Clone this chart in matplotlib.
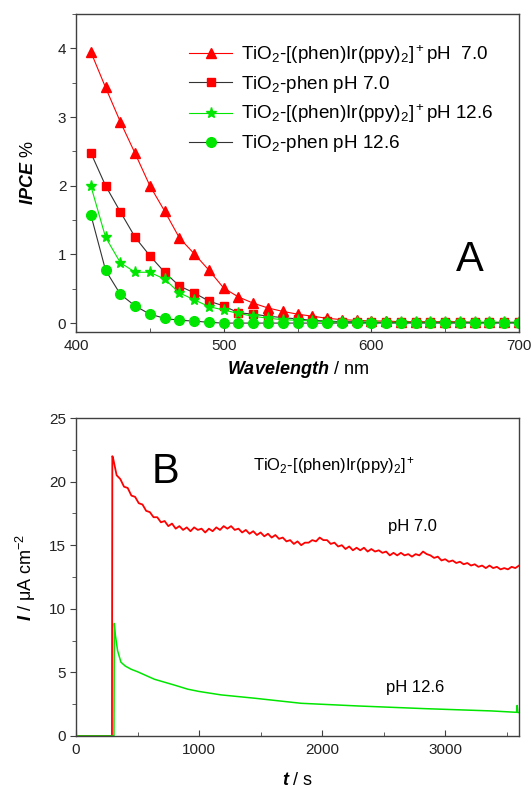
import numpy as np
import matplotlib
matplotlib.use('Agg')
import matplotlib.pyplot as plt
from matplotlib.ticker import MultipleLocator

plt.rcParams['font.family'] = ['Liberation Sans', 'DejaVu Sans']
plt.rcParams['mathtext.fontset'] = 'custom'
plt.rcParams['mathtext.rm'] = 'Liberation Sans'
plt.rcParams['mathtext.it'] = 'Liberation Sans:italic'
plt.rcParams['mathtext.bf'] = 'Liberation Sans:bold'
plt.rcParams['mathtext.bfit'] = 'Liberation Sans:italic:bold'

# ---- panel A: IPCE spectra ----
wavelength = np.arange(410, 701, 10)
ipce_ir_7 = [3.95, 3.43, 2.93, 2.47, 2.00, 1.63, 1.24, 1.01, 0.77, 0.51,
             0.38, 0.29, 0.22, 0.17, 0.13, 0.10, 0.07, 0.05, 0.04, 0.03,
             0.03, 0.02, 0.02, 0.02, 0.02, 0.02, 0.01, 0.01, 0.01, 0.01]
ipce_phen_7 = [2.48, 2.00, 1.62, 1.25, 0.98, 0.74, 0.54, 0.44, 0.32, 0.25,
               0.15, 0.13, 0.10, 0.08, 0.06, 0.04, 0.03, 0.02, 0.02, 0.01,
               0.01, 0.01, 0.01, 0.01, 0.01, 0.01, 0.01, 0.01, 0.01, 0.01]
ipce_ir_126 = [2.00, 1.25, 0.88, 0.74, 0.74, 0.64, 0.44, 0.34, 0.24, 0.19,
               0.14, 0.10, 0.07, 0.05, 0.04, 0.03, 0.02, 0.01, 0.01, 0.01,
               0.01, 0.01, 0.01, 0.01, 0.01, 0.01, 0.01, 0.01, 0.01, 0.01]
ipce_phen_126 = [1.58, 0.77, 0.42, 0.25, 0.13, 0.07, 0.04, 0.03, 0.01, 0.00,
                 0.00, 0.00, 0.00, 0.00, 0.00, 0.00, 0.00, 0.00, 0.00, 0.00,
                 0.00, 0.00, 0.00, 0.00, 0.00, 0.00, 0.00, 0.00, 0.00, 0.00]

# ---- panel B: photocurrent vs time ----
red_pre_t = [0, 292, 295]
red_pre_i = [0.0, 0.0, 22.0]
red_i = [21.9, 20.5, 20.2, 19.6, 19.5, 18.9, 18.8, 18.3, 18.2, 17.7,
         17.6, 17.2, 17.2, 16.8, 16.9, 16.5, 16.7, 16.3, 16.5, 16.2,
         16.4, 16.1, 16.4, 16.2, 16.3, 16.0, 16.3, 16.1, 16.4, 16.2,
         16.5, 16.3, 16.5, 16.2, 16.3, 16.0, 16.2, 15.9, 16.1, 15.8,
         16.0, 15.7, 15.9, 15.6, 15.8, 15.5, 15.6, 15.3, 15.4, 15.1,
         15.3, 15.0, 15.2, 15.2, 15.4, 15.3, 15.6, 15.4, 15.4, 15.1,
         15.2, 14.9, 15.0, 14.7, 14.9, 14.6, 14.8, 14.6, 14.8, 14.5,
         14.7, 14.5, 14.6, 14.4, 14.5, 14.2, 14.4, 14.2, 14.4, 14.2,
         14.3, 14.1, 14.3, 14.2, 14.5, 14.3, 14.2, 14.0, 14.1, 13.8,
         13.9, 13.7, 13.8, 13.6, 13.7, 13.5, 13.6, 13.4, 13.5, 13.3,
         13.4, 13.2, 13.4, 13.2, 13.3, 13.1, 13.2, 13.1, 13.3, 13.2,
         13.4]
red_t = np.linspace(300, 3600, len(red_i))

green_t = [0, 3, 6, 300, 308, 311, 320, 338, 365, 400, 447, 500, 637, 800,
           908, 1000, 1179, 1450, 1829, 2290, 2832, 3374, 3580, 3585, 3590, 3600]
green_i = [0.8, 0.0, 0.0, 0.0, 0.0, 8.85, 7.9, 6.7, 5.8, 5.5, 5.25, 5.05, 4.46,
           4.0, 3.68, 3.5, 3.23, 2.97, 2.57, 2.36, 2.15, 1.97, 1.86, 2.4, 1.85, 1.84]

RED = '#ff0000'
GREEN = '#00e600'
SPINE = '#404040'

fig = plt.figure(figsize=(5.32, 7.89), dpi=100)
axA = fig.add_axes([0.1429, 0.5792, 0.8327, 0.4031])
axB = fig.add_axes([0.1429, 0.0672, 0.8327, 0.4030])

ms = 7
axA.plot(wavelength, ipce_ir_7, color=RED, lw=0.8, marker='^', ms=ms, mfc=RED, mec=RED,
         label=r'TiO$_2$-[(phen)Ir(ppy)$_2$]$^+$pH  7.0')
axA.plot(wavelength, ipce_phen_7, color='#333333', lw=0.8, marker='s', ms=ms - 1, mfc=RED, mec=RED,
         label=r'TiO$_2$-phen pH 7.0')
axA.plot(wavelength, ipce_ir_126, color=GREEN, lw=0.8, marker='*', ms=ms + 1, mfc=GREEN, mec=GREEN,
         label=r'TiO$_2$-[(phen)Ir(ppy)$_2$]$^+$pH 12.6')
axA.plot(wavelength, ipce_phen_126, color='#333333', lw=0.8, marker='o', ms=ms, mfc=GREEN, mec=GREEN,
         label=r'TiO$_2$-phen pH 12.6')

axA.set_xlim(400, 700)
axA.set_ylim(-0.13, 4.5)
axA.xaxis.set_major_locator(MultipleLocator(100))
axA.xaxis.set_minor_locator(MultipleLocator(50))
axA.yaxis.set_major_locator(MultipleLocator(1))
axA.yaxis.set_minor_locator(MultipleLocator(0.5))
axA.set_xlabel(r'$\mathbfit{Wavelength}$ / nm', fontsize=13, labelpad=4)
axA.set_ylabel(r'$\mathbfit{IPCE}$ %', fontsize=13, labelpad=15)
leg = axA.legend(loc='upper left', bbox_to_anchor=(0.238, 0.932), frameon=False, fontsize=13.6,
                 handlelength=2.3, handletextpad=0.43, labelspacing=0.42, borderaxespad=0.0)
axA.text(0.889, 0.226, 'A', transform=axA.transAxes, fontsize=30, ha='center', va='center')

axB.plot(list(red_pre_t) + list(red_t), list(red_pre_i) + list(red_i), color=RED, lw=1.3)
axB.plot(green_t, green_i, color=GREEN, lw=1.1)
axB.set_xlim(0, 3600)
axB.set_ylim(0, 25)
axB.xaxis.set_major_locator(MultipleLocator(1000))
axB.xaxis.set_minor_locator(MultipleLocator(500))
axB.yaxis.set_major_locator(MultipleLocator(5))
axB.yaxis.set_minor_locator(MultipleLocator(2.5))
axB.set_xlabel(r'$\mathbfit{t}$ / s', fontsize=13, labelpad=11)
axB.set_ylabel(r'$\mathbfit{I}$ / $\mathrm{\mu}$A cm$^{-2}$', fontsize=13, labelpad=8)
axB.text(0.203, 0.83, 'B', transform=axB.transAxes, fontsize=30, ha='center', va='center')
axB.text(0.40, 0.852, r'TiO$_2$-[(phen)Ir(ppy)$_2$]$^+$', transform=axB.transAxes,
         fontsize=12, ha='left', va='center')
axB.text(0.704, 0.66, 'pH 7.0', transform=axB.transAxes, fontsize=12, ha='left', va='center')
axB.text(0.700, 0.151, 'pH 12.6', transform=axB.transAxes, fontsize=12, ha='left', va='center')

for ax in (axA, axB):
    for side in ('top', 'right', 'left', 'bottom'):
        ax.spines[side].set_color(SPINE)
        ax.spines[side].set_linewidth(1.0)
    ax.tick_params(axis='x', which='both', direction='in', colors=SPINE, labelcolor='#222222',
                   labelsize=11, pad=5)
    ax.tick_params(axis='y', which='both', direction='out', colors=SPINE, labelcolor='#222222',
                   labelsize=11, pad=3)
    ax.tick_params(which='major', length=4)
    ax.tick_params(which='minor', length=3)

fig.savefig('out.png', dpi=100)
